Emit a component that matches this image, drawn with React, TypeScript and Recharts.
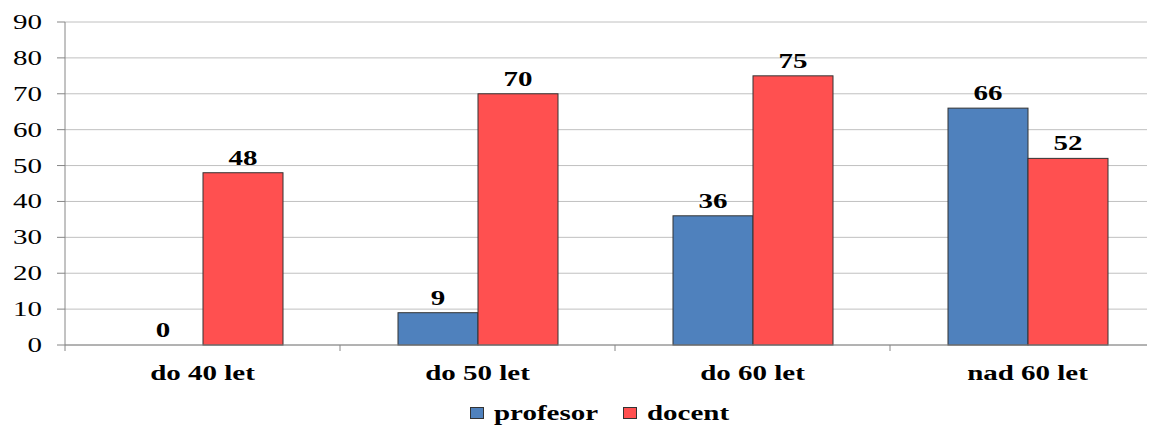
import React from 'react';
import { BarChart, Bar, XAxis, YAxis, CartesianGrid, Legend } from 'recharts';

const AGE_GROUPS = ['do 40 let', 'do 50 let', 'do 60 let', 'nad 60 let'];
const PROFESOR = [0, 9, 36, 66];
const DOCENT = [48, 70, 75, 52];
const Y_TICKS = [0, 10, 20, 30, 40, 50, 60, 70, 80, 90];

const SERIES = [
  { key: 'profesor', color: '#4F81BD' },
  { key: 'docent', color: '#FF5050' },
];

const data = AGE_GROUPS.map((name, i) => ({ name, profesor: PROFESOR[i], docent: DOCENT[i] }));

const FONT = 'Liberation Serif';
const STRETCH = 1.45;
const AXIS_COLOR = '#868686';

// text widened horizontally, anchored at (x, y) baseline
const WideText = ({ x, y, anchor = 'middle', bold = true, size = 20, children }: any) => (
  <g transform={`translate(${x},${y}) scale(${STRETCH},1)`}>
    <text
      x={0}
      y={0}
      textAnchor={anchor}
      style={{ fontFamily: FONT, fontSize: size, fontWeight: bold ? 700 : 400 }}
      fill="#000"
    >
      {children}
    </text>
  </g>
);

const CategoryTick = (props: any) => {
  const { x, y, payload, width, visibleTicksCount } = props;
  const band = width / (visibleTicksCount || AGE_GROUPS.length);
  return (
    <g>
      <line x1={x - band / 2} x2={x - band / 2} y1={y} y2={y + 6} stroke={AXIS_COLOR} />
      <WideText x={x} y={y + 35}>{payload.value}</WideText>
    </g>
  );
};

const ValueTick = (props: any) => {
  const { x, y, payload } = props;
  return <WideText x={x} y={y + 7} anchor="end" bold={false} size={20}>{payload.value}</WideText>;
};

// bar rectangle with its value printed above it (also for zero-height bars)
const makeBarShape = (dataKey: string) => (props: any) => {
  const { x, y, width, height, fill } = props;
  const value = props.payload?.[dataKey];
  const h = Math.max(0, height || 0);
  return (
    <g>
      {h > 0 && <rect x={x} y={y} width={width} height={h} fill={fill} stroke="#333" strokeWidth={1} />}
      <WideText x={x + width / 2} y={y - 8}>{value}</WideText>
    </g>
  );
};

const LegendContent = () => {
  const items = [
    { label: 'profesor', color: SERIES[0].color, x: 462 },
    { label: 'docent', color: SERIES[1].color, x: 615 },
  ];
  return (
    <svg width={1157} height={35} style={{ display: 'block' }}>
      {items.map((it) => (
        <g key={it.label}>
          <rect x={it.x + 0.5} y={17.5} width={13} height={11} fill={it.color} stroke="#333" />
          <WideText x={it.x + 24} y={30} anchor="start">{it.label}</WideText>
        </g>
      ))}
    </svg>
  );
};

export default function App() {
  return (
    <div style={{ width: 1147, height: 417, overflow: 'hidden' }}>
      <BarChart
        width={1157}
        height={417}
        data={data}
        margin={{ top: 14, right: 0, bottom: 0, left: 0 }}
        barGap={0}
        barSize={80}
      >
        <CartesianGrid vertical={false} stroke="#c0c0c0" />
        <XAxis
          dataKey="name"
          height={45}
          axisLine={{ stroke: AXIS_COLOR }}
          tickLine={false}
          tickSize={0}
          tickMargin={0}
          tick={<CategoryTick />}
          interval={0}
        />
        <YAxis
          width={57}
          domain={[0, 90]}
          ticks={Y_TICKS}
          interval={0}
          axisLine={{ stroke: AXIS_COLOR }}
          tickLine={{ stroke: AXIS_COLOR }}
          tickSize={8}
          tickMargin={15}
          tick={<ValueTick />}
        />
        <Legend verticalAlign="bottom" height={35} content={<LegendContent />} />
        {SERIES.map((s) => (
          <Bar
            key={s.key}
            dataKey={s.key}
            fill={s.color}
            isAnimationActive={false}
            shape={makeBarShape(s.key)}
          />
        ))}
      </BarChart>
    </div>
  );
}
